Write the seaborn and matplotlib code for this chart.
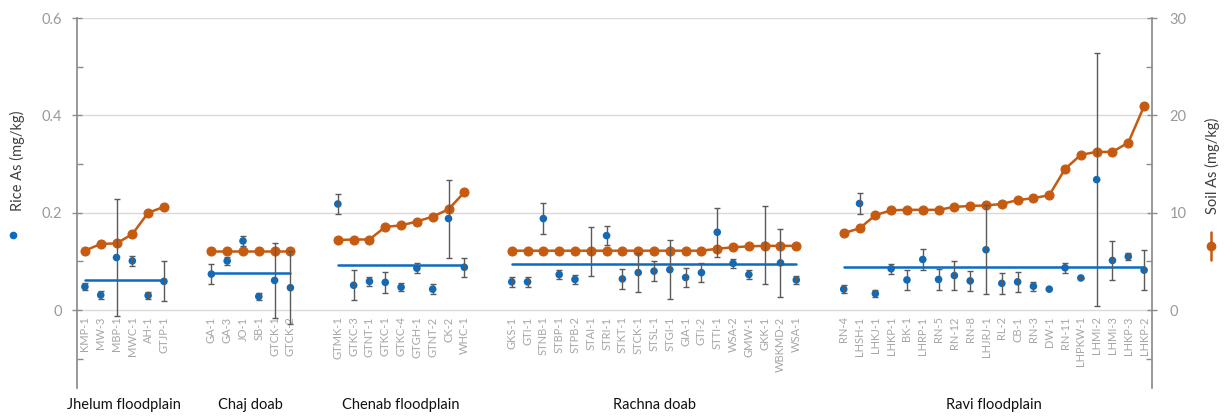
import numpy as np
import pandas as pd
import matplotlib
matplotlib.use("Agg")
import matplotlib.pyplot as plt
from matplotlib.lines import Line2D
from matplotlib.ticker import MultipleLocator
from matplotlib.transforms import blended_transform_factory
import seaborn as sns

# ---- data -------------------------------------------------------------
regions = ["Jhelum floodplain", "Chaj doab", "Chenab floodplain", "Rachna doab", "Ravi floodplain"]

sites_jhelum = ["KMP-1", "MW-3", "MBP-1", "MWC-1", "AH-1", "GTJP-1"]
sites_chaj = ["GA-1", "GA-3", "JO-1", "SB-1", "GTCK-1", "GTCK-2"]
sites_chenab = ["GTMK-1", "GTKC-3", "GTNT-1", "GTKC-1", "GTKC-4", "GTGH-1", "GTNT-2", "CK-2", "WHC-1"]
sites_rachna = ["GKS-1", "GTI-1", "STNB-1", "STBP-1", "STPB-2", "STAI-1", "STRI-1", "STKT-1", "STCK-1",
                "STSL-1", "STGI-1", "GIA-1", "GTI-2", "STTI-1", "WSA-2", "GMW-1", "GKK-1", "WBKMD-2", "WSA-1"]
sites_ravi = ["RN-4", "LHSH-1", "LHKJ-1", "LHKP-1", "BK-1", "LHRP-1", "RN-5", "RN-12", "RN-8", "LHJRJ-1",
              "RL-2", "CB-1", "RN-3", "DW-1", "RN-11", "LHPKW-1", "LHMI-2", "LHMI-3", "LHKP-3", "LHKP-2"]

# rice arsenic (mg/kg) and its error
rice_jhelum = [0.048, 0.031, 0.108, 0.101, 0.030, 0.059]
rice_chaj = [0.074, 0.101, 0.142, 0.028, 0.061, 0.046]
rice_chenab = [0.218, 0.051, 0.059, 0.057, 0.047, 0.086, 0.043, 0.188, 0.088]
rice_rachna = [0.058, 0.058, 0.188, 0.073, 0.063, 0.120, 0.153, 0.064, 0.077, 0.080,
               0.083, 0.067, 0.077, 0.160, 0.096, 0.073, 0.133, 0.097, 0.062]
rice_ravi = [0.043, 0.219, 0.034, 0.085, 0.062, 0.104, 0.063, 0.071, 0.060, 0.124,
             0.055, 0.058, 0.049, 0.043, 0.087, 0.066, 0.268, 0.102, 0.110, 0.082]

err_jhelum = [0.007, 0.008, 0.120, 0.010, 0.008, 0.041]
err_chaj = [0.021, 0.009, 0.010, 0.007, 0.077, 0.075]
err_chenab = [0.021, 0.031, 0.010, 0.021, 0.008, 0.010, 0.010, 0.080, 0.020]
err_rachna = [0.010, 0.010, 0.031, 0.010, 0.010, 0.050, 0.020, 0.020, 0.040, 0.020,
              0.060, 0.020, 0.020, 0.050, 0.010, 0.010, 0.080, 0.070, 0.008]
err_ravi = [0.008, 0.021, 0.008, 0.010, 0.020, 0.021, 0.021, 0.030, 0.021, 0.091,
            0.021, 0.021, 0.009, 0.000, 0.010, 0.000, 0.260, 0.040, 0.008, 0.041]

# soil arsenic (mg/kg)
soil_jhelum = [6.1, 6.8, 6.85, 7.8, 10.0, 10.6]
soil_chaj = [6.1, 6.1, 6.1, 6.1, 6.1, 6.1]
soil_chenab = [7.2, 7.25, 7.25, 8.55, 8.7, 9.1, 9.6, 10.35, 12.1]
soil_rachna = [6.1, 6.1, 6.1, 6.1, 6.1, 6.1, 6.1, 6.1, 6.1, 6.1,
               6.1, 6.1, 6.1, 6.3, 6.45, 6.55, 6.6, 6.6, 6.6]
soil_ravi = [7.9, 8.4, 9.75, 10.25, 10.3, 10.3, 10.3, 10.6, 10.7, 10.75,
             10.9, 11.3, 11.5, 11.8, 14.5, 15.95, 16.25, 16.25, 17.2, 20.95]

sites = [sites_jhelum, sites_chaj, sites_chenab, sites_rachna, sites_ravi]
rice = [rice_jhelum, rice_chaj, rice_chenab, rice_rachna, rice_ravi]
errs = [err_jhelum, err_chaj, err_chenab, err_rachna, err_ravi]
soil = [soil_jhelum, soil_chaj, soil_chenab, soil_rachna, soil_ravi]

# ---- table with x slots (two empty slots between regions) --------------
GAP = 2
rows = []
pos = 0
for reg, s, r, e, so in zip(regions, sites, rice, errs, soil):
    for i in range(len(s)):
        rows.append(dict(region=reg, site=s[i], x=pos, rice=r[i], err=e[i], soil=so[i]))
        pos += 1
    pos += GAP
df = pd.DataFrame(rows)
n_slots = int(df["x"].max()) + 1

# regional mean of rice arsenic, drawn as a flat segment across each group
means = df.groupby("region", sort=False).agg(x0=("x", "min"), x1=("x", "max"), m=("rice", "mean")).reset_index()
mean_df = pd.concat([
    means[["region", "x0", "m"]].rename(columns={"x0": "x"}),
    means[["region", "x1", "m"]].rename(columns={"x1": "x"}),
]).sort_values(["region", "x"])

# ---- style --------------------------------------------------------------
sns.set_theme(style="white")
plt.rcParams["font.family"] = ["Lato", "DejaVu Sans"]

BLUE = "#0A6BC2"
ORANGE = "#C55A11"
BAR = "#5A5A5A"
SPINE = "#8C8C8C"
TICK = "#9A9A9A"
GRID = "#D9D9D9"

W, H = 1229, 417
fig = plt.figure(figsize=(W / 100, H / 100), dpi=100)
ax = fig.add_axes([77 / W, 1 - 388 / H, (1152 - 77) / W, (388 - 18) / H])
ax2 = ax.twinx()

ax.set_xlim(-0.5, n_slots - 0.5)
ax.set_ylim(-0.16, 0.6)
ax2.set_ylim(-8, 30)

# horizontal gridlines
for g in [0, 0.2, 0.4, 0.6]:
    ax.axhline(g, color=GRID, lw=1.0, zorder=0)

# rice points and regional means
sns.scatterplot(data=df, x="x", y="rice", ax=ax, color=BLUE, s=30, edgecolor="none", zorder=3, legend=False)
sns.lineplot(data=mean_df, x="x", y="m", units="region", estimator=None, ax=ax, color=BLUE, lw=1.8,
             sort=False, legend=False, zorder=2)

# soil line (on the secondary axis)
sns.lineplot(data=df, x="x", y="soil", units="region", estimator=None, ax=ax2, color=ORANGE, lw=1.8,
             marker="o", markersize=6.5, markeredgecolor=ORANGE, sort=False, legend=False, zorder=3)

# error bars on top of both series, in rice units
ax2.errorbar(df["x"], df["rice"], yerr=df["err"], fmt="none", ecolor=BAR, elinewidth=1.0,
             capsize=2.5, capthick=1.0, transform=ax.transData, zorder=5)

# site labels inside the plot below zero
for xi, name in zip(df["x"], df["site"]):
    ax.text(xi, -0.013, name, rotation=90, ha="center", va="top", fontsize=8, color="#A6A6A6")

# axes cosmetics
for a in (ax, ax2):
    a.set_xlabel("")
    a.set_ylabel("")
    for sp in ("top", "bottom", "left", "right"):
        a.spines[sp].set_visible(False)
ax.spines["left"].set_visible(True)
ax.spines["left"].set_color(SPINE)
ax2.spines["right"].set_visible(True)
ax2.spines["right"].set_color(SPINE)
ax.set_xticks([])

ax.set_yticks([0, 0.2, 0.4, 0.6])
ax.set_yticklabels(["0", "0.2", "0.4", "0.6"])
ax.yaxis.set_minor_locator(MultipleLocator(0.1))
ax2.set_yticks([0, 10, 20, 30])
ax2.set_yticklabels(["0", "10", "20", "30"])
ax2.yaxis.set_minor_locator(MultipleLocator(5))
ax.tick_params(axis="y", which="major", direction="inout", length=7, width=1, color=SPINE,
               labelsize=10.5, labelcolor=TICK, pad=7, left=True)
ax.tick_params(axis="y", which="minor", direction="in", length=4, width=1, color=SPINE, left=True)
ax2.tick_params(axis="y", which="major", direction="inout", length=7, width=1, color=SPINE,
                labelsize=10.5, labelcolor=TICK, pad=9, right=True)
ax2.tick_params(axis="y", which="minor", direction="in", length=4, width=1, color=SPINE, right=True)

# region names under each group
trans = blended_transform_factory(ax.transData, fig.transFigure)
for _, r in means.iterrows():
    fig.text((r["x0"] + r["x1"]) / 2, 1 - 405 / H, r["region"], transform=trans,
             ha="center", va="center", fontsize=10.5, color="#111111")

# axis titles with their series keys
fig.text(17 / W, 1 - 161 / H, "Rice As (mg/kg)", rotation=90, ha="center", va="center",
         fontsize=10.5, color="#404040")
fig.add_artist(Line2D([13 / W], [1 - 235 / H], marker="o", color=BLUE, markersize=4.5,
                      linestyle="none", transform=fig.transFigure))
fig.text(1212 / W, 1 - 166 / H, "Soil As (mg/kg)", rotation=90, ha="center", va="center",
         fontsize=10.5, color="#404040")
fig.add_artist(Line2D([1211 / W, 1211 / W], [1 - 232 / H, 1 - 260 / H], color=ORANGE, lw=1.8,
                      transform=fig.transFigure))
fig.add_artist(Line2D([1211 / W], [1 - 246 / H], marker="o", color=ORANGE, markersize=6,
                      linestyle="none", transform=fig.transFigure))

fig.savefig("out.png", dpi=100)
